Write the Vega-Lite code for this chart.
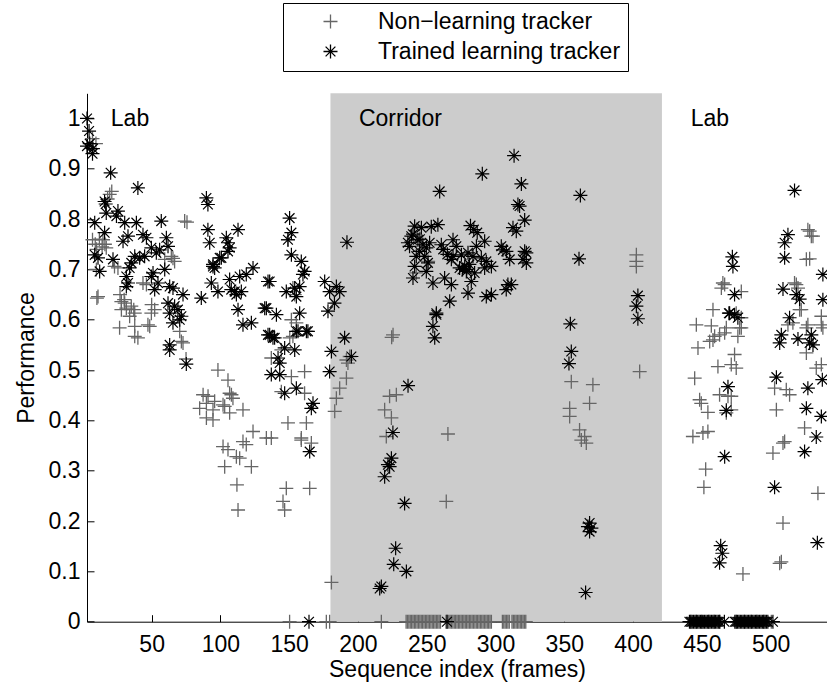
{
"$schema": "https://vega.github.io/schema/vega-lite/v6.json",
"width": 740, "height": 528.4,
"autosize": {"type": "none"},
"padding": {"left": 87, "top": 93.3, "right": 0, "bottom": 65.3},
"background": "white",
"config": {
  "view": {"stroke": null},
  "font": "Liberation Sans",
  "axis": {"domainColor": "black", "tickColor": "black", "labelColor": "black", "titleColor": "black", "labelFont": "Liberation Sans", "titleFont": "Liberation Sans", "labelFontSize": 23, "titleFontSize": 23, "titleFontWeight": "normal", "grid": false, "tickSize": -7, "labelFlush": false, "labelOverlap": false, "zindex": 1, "domainWidth": 1, "tickWidth": 1}
},
"datasets": {
  "regions": [{"start": 180, "end": 421}],
  "labels": [{"label": "Lab", "x": 20.3, "y": 0.986}, {"label": "Corridor", "x": 200.7, "y": 0.986}, {"label": "Lab", "x": 441.9, "y": 0.986}],
  "nl": [
{"x":7,"y":0.96},{"x":9.5,"y":0.95},{"x":18,"y":0.84},{"x":19.5,"y":0.849},{"x":21,"y":0.855},{"x":75.7,"y":0.794},{"x":74,"y":0.796},
{"x":7,"y":0.759},{"x":9,"y":0.75},{"x":12,"y":0.76},{"x":14,"y":0.745},{"x":16,"y":0.75},{"x":10,"y":0.74},{"x":17,"y":0.743},{"x":14.6,"y":0.759},
{"x":10.2,"y":0.643},{"x":11,"y":0.646},{"x":9.8,"y":0.7},{"x":23,"y":0.706},{"x":25.5,"y":0.703},
{"x":27,"y":0.65},{"x":30,"y":0.64},{"x":28,"y":0.636},{"x":30.4,"y":0.633},{"x":31.6,"y":0.623},{"x":28,"y":0.62},{"x":35.2,"y":0.627},{"x":37.7,"y":0.613},{"x":34,"y":0.607},{"x":37,"y":0.62},
{"x":26.7,"y":0.584},{"x":37.7,"y":0.587},{"x":37.7,"y":0.567},{"x":40,"y":0.564},{"x":47.3,"y":0.59},{"x":48.6,"y":0.587},{"x":49.8,"y":0.613},{"x":52.2,"y":0.62},{"x":50,"y":0.63},{"x":46.2,"y":0.67},{"x":43.7,"y":0.673},{"x":64.3,"y":0.726},{"x":65.5,"y":0.722},{"x":66.7,"y":0.716},{"x":59.5,"y":0.72},{"x":70.4,"y":0.577},{"x":71.6,"y":0.557},{"x":72.8,"y":0.554},{"x":75,"y":0.522},
{"x":98.2,"y":0.5},{"x":105.5,"y":0.48},{"x":87.4,"y":0.451},{"x":91,"y":0.448},{"x":89.8,"y":0.434},{"x":95.8,"y":0.438},{"x":94.6,"y":0.421},{"x":84.9,"y":0.424},{"x":89.8,"y":0.405},{"x":94.6,"y":0.401},{"x":108,"y":0.451},{"x":109.1,"y":0.444},{"x":103.1,"y":0.428},{"x":106.7,"y":0.415},{"x":116.4,"y":0.421},{"x":123.7,"y":0.378},{"x":133.4,"y":0.365},{"x":116.4,"y":0.358},{"x":118.8,"y":0.352},{"x":101.9,"y":0.348},{"x":105.5,"y":0.342},{"x":111.6,"y":0.328},{"x":114,"y":0.325},{"x":103.1,"y":0.308},{"x":122.5,"y":0.308},{"x":112,"y":0.272},{"x":112.8,"y":0.222},{"x":106.7,"y":0.454},{"x":101.9,"y":0.431},
{"x":154,"y":0.65},{"x":152.7,"y":0.663},{"x":151.6,"y":0.6},{"x":155.2,"y":0.594},{"x":150.4,"y":0.564},{"x":137,"y":0.524},{"x":144.3,"y":0.54},{"x":151.6,"y":0.487},{"x":161.2,"y":0.497},{"x":144.3,"y":0.457},{"x":161.2,"y":0.454},{"x":149.1,"y":0.395},{"x":162.5,"y":0.395},{"x":158.8,"y":0.361},{"x":166.1,"y":0.355},{"x":137,"y":0.365},{"x":158.8,"y":0.365},{"x":147.9,"y":0.265},{"x":164.9,"y":0.265},{"x":145.5,"y":0.239},{"x":146.7,"y":0.222},{"x":191.6,"y":0.484},{"x":186.7,"y":0.464},{"x":184.3,"y":0.444},{"x":183.1,"y":0.418},{"x":191.6,"y":0.52},{"x":192.7,"y":0.514},{"x":194,"y":0.527},{"x":149.1,"y":0.759},{"x":152.7,"y":0.567},{"x":180.7,"y":0.078},
{"x":223,"y":0.448},{"x":227.9,"y":0.451},{"x":219.4,"y":0.421},{"x":224.3,"y":0.405},{"x":220.6,"y":0.368},{"x":265.4,"y":0.373},{"x":264.2,"y":0.239},{"x":225.5,"y":0.57},{"x":224.5,"y":0.565},{"x":251,"y":0.716},{"x":242.4,"y":0.693},
{"x":404.8,"y":0.497},{"x":355.1,"y":0.477},{"x":370.8,"y":0.471},{"x":368.4,"y":0.434},{"x":353.9,"y":0.424},{"x":353.9,"y":0.408},{"x":361.1,"y":0.381},{"x":364.8,"y":0.368},{"x":362.4,"y":0.361},{"x":366,"y":0.355},{"x":402.4,"y":0.729},{"x":402.4,"y":0.716},{"x":402.4,"y":0.706},
{"x":466.6,"y":0.67},{"x":478.7,"y":0.656},{"x":465.3,"y":0.673},{"x":464.2,"y":0.663},{"x":458.1,"y":0.62},{"x":446,"y":0.59},{"x":456.9,"y":0.588},{"x":462.9,"y":0.57},{"x":466.6,"y":0.574},{"x":455.7,"y":0.557},{"x":447.2,"y":0.544},{"x":476.2,"y":0.567},{"x":478.7,"y":0.584},{"x":477.5,"y":0.584},{"x":478.7,"y":0.604},{"x":475,"y":0.613},{"x":459.3,"y":0.567},{"x":467.8,"y":0.584},{"x":458.1,"y":0.56},{"x":473.8,"y":0.531},{"x":461.7,"y":0.507},{"x":471.4,"y":0.511},{"x":475,"y":0.504},{"x":444.8,"y":0.484},{"x":469,"y":0.448},{"x":448.4,"y":0.441},{"x":449.6,"y":0.434},{"x":454.4,"y":0.416},{"x":443.5,"y":0.368},{"x":450.8,"y":0.375},{"x":454.4,"y":0.378},{"x":462.9,"y":0.451},{"x":471.4,"y":0.448},{"x":467.8,"y":0.415},{"x":471.4,"y":0.421},{"x":452.8,"y":0.303},{"x":451.5,"y":0.267},
{"x":528.4,"y":0.776},{"x":529.6,"y":0.766},{"x":527.1,"y":0.779},{"x":530.8,"y":0.766},{"x":528.4,"y":0.721},{"x":526,"y":0.72},{"x":518.7,"y":0.67},{"x":517.4,"y":0.673},{"x":519.9,"y":0.663},{"x":521.1,"y":0.62},{"x":522.3,"y":0.62},{"x":527.1,"y":0.59},{"x":512.6,"y":0.59},{"x":516.2,"y":0.594},{"x":526,"y":0.584},{"x":538,"y":0.584},{"x":536.9,"y":0.59},{"x":536.9,"y":0.607},{"x":526,"y":0.534},{"x":536.9,"y":0.511},{"x":533.2,"y":0.504},{"x":502.9,"y":0.464},{"x":511.4,"y":0.461},{"x":513.8,"y":0.451},{"x":504.2,"y":0.421},{"x":524.7,"y":0.385},{"x":510.2,"y":0.358},{"x":501.7,"y":0.335},{"x":509,"y":0.355},{"x":534.4,"y":0.255},{"x":509,"y":0.196},{"x":506.6,"y":0.116},{"x":507.8,"y":0.119},{"x":479.9,"y":0.095},
{"x":150.3,"y":0},{"x":177,"y":0},{"x":179.4,"y":0},{"x":217,"y":0},
{"x":235,"y":0},{"x":236,"y":0},{"x":237,"y":0},{"x":238,"y":0},{"x":239,"y":0},{"x":240,"y":0},{"x":241,"y":0},{"x":242,"y":0},{"x":243,"y":0},{"x":244,"y":0},{"x":245,"y":0},{"x":246,"y":0},{"x":247,"y":0},{"x":248,"y":0},{"x":249,"y":0},{"x":250,"y":0},{"x":251,"y":0},{"x":252,"y":0},{"x":253,"y":0},{"x":254,"y":0},{"x":255,"y":0},{"x":256,"y":0},{"x":257,"y":0},{"x":258,"y":0},{"x":259,"y":0},{"x":260,"y":0},
{"x":264,"y":0},{"x":265,"y":0},{"x":266,"y":0},{"x":267,"y":0},{"x":268,"y":0},{"x":269,"y":0},{"x":270,"y":0},{"x":271,"y":0},{"x":272,"y":0},{"x":273,"y":0},{"x":274,"y":0},{"x":275,"y":0},{"x":276,"y":0},{"x":277,"y":0},{"x":278,"y":0},{"x":279,"y":0},{"x":280,"y":0},{"x":281,"y":0},{"x":282,"y":0},{"x":283,"y":0},{"x":284,"y":0},{"x":285,"y":0},{"x":286,"y":0},{"x":287,"y":0},{"x":288,"y":0},{"x":289,"y":0},{"x":290,"y":0},{"x":291,"y":0},{"x":292,"y":0},{"x":293,"y":0},{"x":294,"y":0},{"x":295,"y":0},{"x":296,"y":0},{"x":297,"y":0},
{"x":305,"y":0},{"x":306,"y":0},{"x":307,"y":0},{"x":308,"y":0},{"x":309,"y":0},{"x":310,"y":0},{"x":312,"y":0},{"x":313,"y":0},{"x":314,"y":0},{"x":315,"y":0},{"x":316,"y":0},{"x":317,"y":0},{"x":318,"y":0},{"x":319,"y":0},{"x":320,"y":0},{"x":321,"y":0},{"x":322,"y":0},
{"x":442,"y":0},{"x":446,"y":0},{"x":450,"y":0},{"x":455,"y":0},{"x":459,"y":0},{"x":463,"y":0},{"x":475,"y":0},{"x":481,"y":0},{"x":486,"y":0},{"x":490,"y":0},{"x":495,"y":0},{"x":500.5,"y":0}
  ],
  "tl": [
{"x":3,"y":1.0},{"x":4.5,"y":0.975},{"x":3,"y":0.945},{"x":7.3,"y":0.94},{"x":7,"y":0.93},{"x":5,"y":0.95},
{"x":20.2,"y":0.892},{"x":40,"y":0.862},{"x":15.8,"y":0.835},{"x":16.6,"y":0.83},{"x":17,"y":0.812},{"x":25.5,"y":0.816},{"x":24.4,"y":0.806},{"x":30.4,"y":0.793},{"x":38.9,"y":0.793},{"x":57,"y":0.796},{"x":8.6,"y":0.793},{"x":15.8,"y":0.773},{"x":32.8,"y":0.766},{"x":29.2,"y":0.756},{"x":43.7,"y":0.769},{"x":46.2,"y":0.763},{"x":60.7,"y":0.763},{"x":61.9,"y":0.746},{"x":49.8,"y":0.743},{"x":55.8,"y":0.739},{"x":53.4,"y":0.733},{"x":44.9,"y":0.726},{"x":41.3,"y":0.723},{"x":8.6,"y":0.729},{"x":11,"y":0.723},{"x":12.2,"y":0.696},{"x":21.9,"y":0.72},{"x":31.6,"y":0.686},{"x":32.8,"y":0.673},{"x":31.6,"y":0.666},{"x":35.2,"y":0.713},{"x":34,"y":0.703},{"x":37.7,"y":0.726},{"x":51,"y":0.693},{"x":49.8,"y":0.686},{"x":54.6,"y":0.673},{"x":52.2,"y":0.66},{"x":59.5,"y":0.7},{"x":63.1,"y":0.666},{"x":65.5,"y":0.663},{"x":72.8,"y":0.65},{"x":61.9,"y":0.633},{"x":63.1,"y":0.613},{"x":65.5,"y":0.594},{"x":69.1,"y":0.62},{"x":71.6,"y":0.607},{"x":70.4,"y":0.6},{"x":66.7,"y":0.627},{"x":63.1,"y":0.55},{"x":86.1,"y":0.643},
{"x":89.8,"y":0.842},{"x":90.9,"y":0.829},{"x":90.9,"y":0.779},{"x":92.2,"y":0.753},{"x":94.6,"y":0.71},{"x":95.8,"y":0.703},{"x":100.7,"y":0.723},{"x":104.3,"y":0.763},{"x":105.5,"y":0.753},{"x":106.7,"y":0.743},{"x":112.8,"y":0.779},{"x":93.4,"y":0.673},{"x":98.2,"y":0.656},{"x":106.7,"y":0.68},{"x":107.9,"y":0.66},{"x":110.4,"y":0.656},{"x":111.6,"y":0.65},{"x":115.2,"y":0.656},{"x":114,"y":0.686},{"x":118.8,"y":0.69},{"x":123.7,"y":0.703},{"x":112.8,"y":0.62},{"x":116.4,"y":0.59},{"x":122.5,"y":0.594},{"x":134.6,"y":0.676},{"x":133.4,"y":0.623},{"x":140.7,"y":0.61},{"x":135.8,"y":0.57},{"x":138.2,"y":0.564},{"x":99.5,"y":0.723},{"x":105.5,"y":0.736},{"x":94.6,"y":0.706},{"x":75.2,"y":0.512},{"x":63.1,"y":0.54},
{"x":151.6,"y":0.729},{"x":158.8,"y":0.716},{"x":161.2,"y":0.696},{"x":160,"y":0.69},{"x":147.9,"y":0.656},{"x":154,"y":0.663},{"x":157.6,"y":0.666},{"x":155.2,"y":0.646},{"x":132.2,"y":0.623},{"x":157.6,"y":0.613},{"x":134.6,"y":0.57},{"x":139.4,"y":0.564},{"x":155.2,"y":0.577},{"x":163.6,"y":0.577},{"x":146.7,"y":0.544},{"x":154,"y":0.54},{"x":141.9,"y":0.524},{"x":143.1,"y":0.514},{"x":137,"y":0.491},{"x":143.1,"y":0.491},{"x":146.7,"y":0.454},{"x":155.2,"y":0.464},{"x":167.3,"y":0.434},{"x":166.1,"y":0.424},{"x":175.8,"y":0.676},{"x":179.4,"y":0.656},{"x":184.3,"y":0.666},{"x":186.7,"y":0.656},{"x":182.9,"y":0.633},{"x":178.2,"y":0.617},{"x":190.3,"y":0.564},{"x":195.2,"y":0.527},{"x":180.7,"y":0.537},{"x":179.4,"y":0.497},{"x":150.3,"y":0.802},{"x":151.6,"y":0.773},{"x":149.1,"y":0.759},{"x":192,"y":0.754},{"x":135.8,"y":0.676},{"x":162.5,"y":0.577},{"x":156.4,"y":0.577},{"x":164.9,"y":0.338},{"x":164.4,"y":0},
{"x":236.4,"y":0.469},{"x":225.4,"y":0.376},{"x":224.3,"y":0.325},{"x":221.8,"y":0.312},{"x":223,"y":0.308},{"x":219.4,"y":0.288},{"x":233.9,"y":0.235},{"x":227.4,"y":0.146},{"x":226,"y":0.114},{"x":235.2,"y":0.1},{"x":217,"y":0.07},{"x":215.8,"y":0.066},{"x":264.7,"y":0},{"x":257,"y":0.613},{"x":254.5,"y":0.587},{"x":255.8,"y":0.564},{"x":259.4,"y":0.855},{"x":290.4,"y":0.89},{"x":313.5,"y":0.926},{"x":318.8,"y":0.87},{"x":316.3,"y":0.829},{"x":317.5,"y":0.826},{"x":321.2,"y":0.798},{"x":312.7,"y":0.783},{"x":315.1,"y":0.776},
{"x":241.2,"y":0.786},{"x":246.1,"y":0.783},{"x":253.3,"y":0.785},{"x":258.1,"y":0.789},{"x":238.8,"y":0.766},{"x":236.3,"y":0.753},{"x":237.5,"y":0.746},{"x":243.6,"y":0.759},{"x":247.2,"y":0.749},{"x":249.7,"y":0.743},{"x":252.1,"y":0.753},{"x":244.8,"y":0.736},{"x":242.4,"y":0.726},{"x":248.5,"y":0.726},{"x":241.2,"y":0.706},{"x":250.9,"y":0.713},{"x":249.7,"y":0.696},{"x":240,"y":0.683},{"x":254.5,"y":0.673},{"x":263,"y":0.683},{"x":267.9,"y":0.67},{"x":266.7,"y":0.637},{"x":260.6,"y":0.749},{"x":269.1,"y":0.759},{"x":271.5,"y":0.746},{"x":269.1,"y":0.726},{"x":275.2,"y":0.729},{"x":280,"y":0.733},{"x":267.9,"y":0.72},{"x":281.8,"y":0.787},{"x":284.2,"y":0.779},{"x":286.7,"y":0.773},{"x":292.1,"y":0.756},{"x":286.1,"y":0.746},{"x":283.6,"y":0.726},{"x":289.7,"y":0.723},{"x":293.3,"y":0.716},{"x":297,"y":0.706},{"x":292.1,"y":0.703},{"x":273.9,"y":0.703},{"x":277.6,"y":0.706},{"x":278.8,"y":0.696},{"x":284.8,"y":0.693},{"x":282.4,"y":0.676},{"x":280,"y":0.653},{"x":293.3,"y":0.646},{"x":297,"y":0.65},{"x":304.2,"y":0.746},{"x":307.9,"y":0.736},{"x":310.3,"y":0.72},{"x":321.2,"y":0.736},{"x":322.4,"y":0.713},{"x":320,"y":0.72},{"x":309,"y":0.67},{"x":307.8,"y":0.66},{"x":311.5,"y":0.67},{"x":257,"y":0.61},{"x":322.4,"y":0.733},{"x":305.4,"y":0.739},{"x":276,"y":0.7},{"x":279,"y":0.7},{"x":281,"y":0.71},{"x":245,"y":0.76},{"x":240,"y":0.77},{"x":262,"y":0.74},{"x":265,"y":0.73},
{"x":361.7,"y":0.847},{"x":360.7,"y":0.721},{"x":403.5,"y":0.648},{"x":402.4,"y":0.627},{"x":403.5,"y":0.602},{"x":354.4,"y":0.592},{"x":355.1,"y":0.537},{"x":353.4,"y":0.513},{"x":368.4,"y":0.196},{"x":367.2,"y":0.189},{"x":369.7,"y":0.186},{"x":368.4,"y":0.179},{"x":365.5,"y":0.058},
{"x":472.2,"y":0.725},{"x":472.6,"y":0.706},{"x":473.8,"y":0.65},{"x":469.7,"y":0.613},{"x":473.8,"y":0.61},{"x":476.2,"y":0.604},{"x":470.2,"y":0.613},{"x":469,"y":0.467},{"x":467.8,"y":0.42},{"x":466.6,"y":0.328},{"x":512.6,"y":0.769},{"x":510.2,"y":0.753},{"x":510.2,"y":0.723},{"x":509,"y":0.661},{"x":518.7,"y":0.65},{"x":521.1,"y":0.641},{"x":513.8,"y":0.604},{"x":507.8,"y":0.57},{"x":506.6,"y":0.554},{"x":519.9,"y":0.562},{"x":529.6,"y":0.57},{"x":528.4,"y":0.554},{"x":530.8,"y":0.55},{"x":538,"y":0.69},{"x":538,"y":0.64},{"x":504.2,"y":0.486},{"x":527.1,"y":0.464},{"x":526,"y":0.424},{"x":536.9,"y":0.408},{"x":537.6,"y":0.481},{"x":533.2,"y":0.367},{"x":524.7,"y":0.338},{"x":517.4,"y":0.857},{"x":502.9,"y":0.267},{"x":534,"y":0.157},{"x":463.7,"y":0.151},{"x":464.9,"y":0.136},{"x":462.9,"y":0.117},
{"x":441,"y":0},{"x":442,"y":0},{"x":443,"y":0},{"x":444,"y":0},{"x":445,"y":0},{"x":446,"y":0},{"x":447,"y":0},{"x":448,"y":0},{"x":449,"y":0},{"x":450,"y":0},{"x":451,"y":0},{"x":452,"y":0},{"x":453,"y":0},{"x":454,"y":0},{"x":455,"y":0},{"x":456,"y":0},{"x":457,"y":0},{"x":458,"y":0},{"x":459,"y":0},{"x":460,"y":0},{"x":461,"y":0},{"x":462,"y":0},{"x":463,"y":0},{"x":466.4,"y":0},
{"x":474,"y":0},{"x":475,"y":0},{"x":476,"y":0},{"x":477,"y":0},{"x":478,"y":0},{"x":479,"y":0},{"x":480,"y":0},{"x":481,"y":0},{"x":482,"y":0},{"x":483,"y":0},{"x":484,"y":0},{"x":485,"y":0},{"x":486,"y":0},{"x":487,"y":0},{"x":488,"y":0},{"x":489,"y":0},{"x":490,"y":0},{"x":491,"y":0},{"x":492,"y":0},{"x":493,"y":0},{"x":494,"y":0},{"x":495,"y":0},{"x":496,"y":0},{"x":497,"y":0},{"x":498,"y":0},{"x":501.7,"y":0}
  ]
},
"layer": [
  {"data": {"name": "regions"}, "mark": {"type": "rect", "color": "#cccccc", "opacity": 1},
   "encoding": {
     "x": {"field": "start", "type": "quantitative", "scale": {"domain": [3, 541], "nice": false, "zero": false},
           "axis": {"values": [50, 100, 150, 200, 250, 300, 350, 400, 450, 500], "title": "Sequence index (frames)", "labelBaseline": "alphabetic", "labelPadding": 37, "titleX": 370, "titleY": 54.5, "titleBaseline": "alphabetic"}},
     "x2": {"field": "end"}
   }},
  {"data": {"name": "labels"}, "mark": {"type": "text", "align": "left", "baseline": "alphabetic", "font": "Liberation Sans", "fontSize": 23, "color": "black"},
   "encoding": {
     "x": {"field": "x", "type": "quantitative", "scale": {"domain": [3, 541], "nice": false, "zero": false}, "title": "Sequence index (frames)"},
     "y": {"field": "y", "type": "quantitative", "scale": {"domain": [0, 1.05], "nice": false, "zero": false},
           "axis": {"values": [0, 0.1, 0.2, 0.3, 0.4, 0.5, 0.6, 0.7, 0.8, 0.9, 1], "format": "~g", "title": "Performance", "labelPadding": 14, "labelBaseline": "middle", "titleX": -54, "titleY": 264.2, "titleBaseline": "alphabetic"}},
     "text": {"field": "label"}
   }},
  {"data": {"name": "nl"}, "mark": {"type": "point", "filled": false, "opacity": 1, "strokeWidth": 1.3, "size": 196},
   "encoding": {
     "x": {"field": "x", "type": "quantitative", "title": "Sequence index (frames)"},
     "y": {"field": "y", "type": "quantitative", "title": "Performance"},
     "color": {"datum": "Non−learning tracker", "scale": {"domain": ["Non−learning tracker", "Trained learning tracker"], "range": ["#666666", "#000000"]},
               "legend": {"title": null, "orient": "none", "legendX": 196, "legendY": -90.3, "padding": 7, "strokeColor": "black", "fillColor": "white", "labelFont": "Liberation Sans", "labelFontSize": 23, "labelColor": "black", "labelLimit": 0, "symbolSize": 196, "symbolStrokeWidth": 1.3, "symbolOffset": 29, "labelOffset": 36, "rowPadding": 6}},
     "shape": {"datum": "Non−learning tracker", "scale": {"domain": ["Non−learning tracker", "Trained learning tracker"], "range": ["M-1,0L1,0M0,-1L0,1", "M-1,0L1,0M0,-1L0,1M-0.7,-0.7L0.7,0.7M-0.7,0.7L0.7,-0.7"]},
               "legend": {"title": null, "orient": "none", "legendX": 196, "legendY": -90.3, "padding": 7, "strokeColor": "black", "fillColor": "white", "labelFont": "Liberation Sans", "labelFontSize": 23, "labelColor": "black", "labelLimit": 0, "symbolSize": 196, "symbolStrokeWidth": 1.3, "symbolOffset": 29, "labelOffset": 36, "rowPadding": 6}}
   }},
  {"data": {"name": "tl"}, "mark": {"type": "point", "filled": false, "opacity": 1, "strokeWidth": 1.2, "size": 196},
   "encoding": {
     "x": {"field": "x", "type": "quantitative", "title": "Sequence index (frames)"},
     "y": {"field": "y", "type": "quantitative", "title": "Performance"},
     "color": {"datum": "Trained learning tracker"},
     "shape": {"datum": "Trained learning tracker"}
   }}
]
}
